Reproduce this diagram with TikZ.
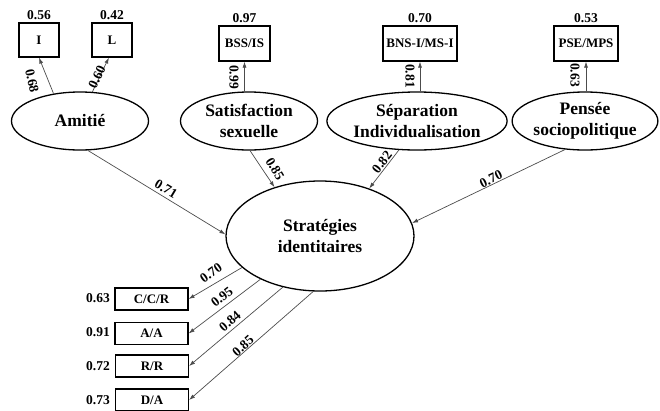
\documentclass[tikz,border=0pt]{standalone}
\usepackage{fontspec}
\setmainfont{Liberation Serif}
\usetikzlibrary{shapes.geometric,arrows.meta}
\begin{document}
\begin{tikzpicture}[x=1pt,y=-1pt,
  lat/.style={draw=black,line width=1.3pt,ellipse,inner sep=0pt,align=center,
    font=\fontsize{17.5}{20.5}\selectfont\bfseries},
  obs/.style={draw=black,line width=1.2pt,rectangle,inner sep=0pt,
    font=\fontsize{13}{14}\selectfont\bfseries},
  lbl/.style={inner sep=0pt,font=\fontsize{13.5}{14}\selectfont\bfseries},
  arr/.style={draw=black!70,line width=0.7pt,-{Latex[length=6pt,width=4pt]}}]
\useasboundingbox (0,0) rectangle (660,410);
% latent variables
\node[lat,minimum width=137pt,minimum height=58pt] (ami) at (80,121) {Amitié};
\node[lat,minimum width=137pt,minimum height=58pt] (sat) at (249,121) {Satisfaction\\sexuelle};
\node[lat,minimum width=138pt,minimum height=58pt] (sep) at (417,121) {Séparation\\Individualisation};
\node[lat,minimum width=136pt,minimum height=58pt] (pen) at (585,121) {Pensée\\sociopolitique};
\node[lat,minimum width=188pt,minimum height=110pt] (str) at (320,236) {Stratégies\\identitaires};
% top observed
\node[obs,minimum width=40pt,minimum height=34pt] (I) at (39,40) {I};
\node[obs,minimum width=40pt,minimum height=34pt] (L) at (112,40) {L};
\node[obs,minimum width=51pt,minimum height=35pt] (bss) at (244.5,43.5) {BSS/IS};
\node[obs,minimum width=74pt,minimum height=35pt] (bns) at (420,43.5) {BNS-I/MS-I};
\node[obs,minimum width=64pt,minimum height=35pt] (pse) at (586,43.5) {PSE/MPS};
\node[lbl,anchor=south] (vI) at (39,20) {0.56};
\node[lbl,anchor=south] (vL) at (112,20) {0.42};
\node[lbl,anchor=south] (vbss) at (244.5,23) {0.97};
\node[lbl,anchor=south] (vbns) at (420,23) {0.70};
\node[lbl,anchor=south] (vpse) at (586,23) {0.53};
% bottom observed
\node[obs,minimum width=73pt,minimum height=22pt] (c1) at (151.5,299) {C/C/R};
\node[obs,minimum width=73pt,minimum height=22pt] (c2) at (151.5,333.5) {A/A};
\node[obs,minimum width=73pt,minimum height=22pt] (c3) at (152,366) {R/R};
\node[obs,minimum width=73pt,minimum height=22pt] (c4) at (152,400) {D/A};
\node[lbl,anchor=east] (v1) at (110,298) {0.63};
\node[lbl,anchor=east] (v2) at (110,332) {0.91};
\node[lbl,anchor=east] (v3) at (110,366) {0.72};
\node[lbl,anchor=east] (v4) at (110,400) {0.73};
% loadings up
\draw[arr] (ami.134) -- (I.south);
\draw[arr] (ami.67) -- (L.-100);
\draw[arr] (bss.south |- sat.north) -- (bss.south);
\draw[arr] (bns.south |- sep.north) -- (bns.south);
\draw[arr] (pse.south |- pen.north) -- (pse.south);
\node[lbl,rotate=-78] (e1) at (32,81) {0.68};
\node[lbl,rotate=65] (e2) at (97,77) {0.60};
\node[lbl,rotate=-90] (e3) at (234,77) {0.99};
\node[lbl,rotate=-90] (e4) at (410,76) {0.81};
\node[lbl,rotate=-90] (e5) at (575,75) {0.63};
% paths to strategies
\draw[arr] (ami.-75) -- (str.179);
\draw[arr] (sat.-88) -- (str.133);
\draw[arr] (sep.-122) -- (str.44);
\draw[arr] (pen.-125) -- (str.8);
\node[lbl,rotate=-31] (p1) at (166,189) {0.71};
\node[lbl,rotate=-59] (p2) at (275,169) {0.85};
\node[lbl,rotate=52] (p3) at (382,162) {0.82};
\node[lbl,rotate=26] (p4) at (491,179) {0.70};
% strategies to indicators
\draw[arr] (str.202) -- (c1.east);
\draw[arr] (str.216) -- (c2.east);
\draw[arr] (str.234) -- (c3.east);
\draw[arr] (str.263) -- (c4.east);
\node[lbl,rotate=35] (q1) at (211,273) {0.70};
\node[lbl,rotate=38] (q2) at (222,297) {0.95};
\node[lbl,rotate=41] (q3) at (230,321) {0.84};
\node[lbl,rotate=41.5] (q4) at (243,346) {0.85};
\end{tikzpicture}
\end{document}
